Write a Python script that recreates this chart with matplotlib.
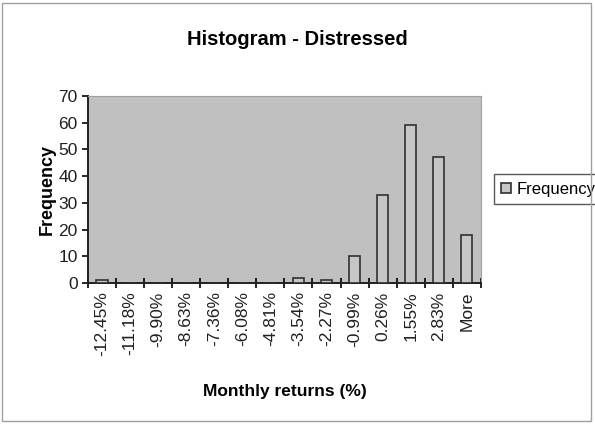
import numpy as np
import matplotlib.pyplot as plt
from matplotlib.patches import Rectangle

bins = ['-12.45%', '-11.18%', '-9.90%', '-8.63%', '-7.36%', '-6.08%', '-4.81%',
        '-3.54%', '-2.27%', '-0.99%', '0.26%', '1.55%', '2.83%', 'More']
frequency = [1, 0, 0, 0, 0, 0, 0, 2, 1, 10, 33, 59, 47, 18]

plt.rcParams['font.family'] = ['Liberation Sans', 'DejaVu Sans']

fig = plt.figure(figsize=(5.95, 4.24), dpi=100)
fig.patch.set_facecolor('white')
fig.patches.append(Rectangle((0.004, 0.006), 0.99, 0.988, transform=fig.transFigure,
                             fill=False, edgecolor='#a0a0a0', linewidth=1))

ax = fig.add_axes([0.148, 0.3325, 0.66, 0.4415])
ax.set_facecolor('#c0c0c0')

x = np.arange(len(bins))
ax.bar(x, frequency, width=0.4, color='#c6c6c6', edgecolor='#303030',
       linewidth=1.2, label='Frequency', zorder=3)

ax.set_xlim(-0.5, len(bins) - 0.5)
ax.set_ylim(0, 70)
ax.set_yticks(range(0, 71, 10))
ax.set_xticks(x)
ax.set_xticklabels(bins, rotation=90, fontsize=12.5)
ax.tick_params(axis='x', length=0, pad=6, labelcolor='#202020')
ax.set_xticks(np.arange(-0.5, len(bins), 1), minor=True)
ax.tick_params(axis='x', which='minor', direction='inout', length=7, width=1.2)
ax.tick_params(axis='y', direction='out', length=4, width=1.2, labelsize=12.5,
               labelcolor='#202020')

for side in ['top', 'right']:
    ax.spines[side].set_color('#a0a0a0')
    ax.spines[side].set_linewidth(0.8)
for side in ['left', 'bottom']:
    ax.spines[side].set_color('#202020')
    ax.spines[side].set_linewidth(1.4)

ax.set_ylabel('Frequency', fontsize=13, fontweight='bold', labelpad=2)
ax.set_xlabel('Monthly returns (%)', fontsize=12.5, fontweight='bold', labelpad=20)
fig.text(0.5, 0.895, 'Histogram - Distressed', ha='center', fontsize=14.5, fontweight='bold')

leg = ax.legend(loc='center left', bbox_to_anchor=(1.033, 0.5), frameon=True,
                fancybox=False, edgecolor='#303030', fontsize=12,
                handlelength=0.6, handleheight=0.6, handletextpad=0.3,
                borderpad=0.45, borderaxespad=0)
leg.get_frame().set_linewidth(1)

fig.savefig('out.png', dpi=100)
